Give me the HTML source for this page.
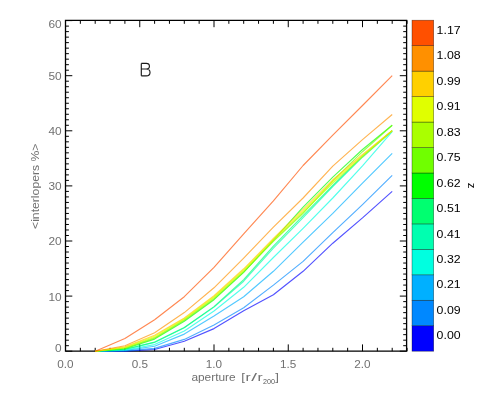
<!DOCTYPE html><html><head><meta charset="utf-8"><style>html,body{margin:0;padding:0;background:#fff;overflow:hidden}svg{display:block;will-change:transform}text{font-family:"Liberation Sans",sans-serif}</style></head><body>
<svg width="491" height="393" viewBox="0 0 491 393">
<rect width="491" height="393" fill="#fff"/>
<g stroke="#000" stroke-width="1.3" fill="none">
<path d="M65.5,19.75V351.84999999999997 M406.6,19.75V351.84999999999997 M65.5,20.4H406.6 M65.5,351.2H406.6"/>
</g>
<path d="M80.35,351.2v-3.4 M80.35,20.4v3.4 M95.20,351.2v-3.4 M95.20,20.4v3.4 M110.05,351.2v-3.4 M110.05,20.4v3.4 M124.90,351.2v-3.4 M124.90,20.4v3.4 M139.75,351.2v-6.8 M139.75,20.4v6.8 M154.60,351.2v-3.4 M154.60,20.4v3.4 M169.45,351.2v-3.4 M169.45,20.4v3.4 M184.30,351.2v-3.4 M184.30,20.4v3.4 M199.15,351.2v-3.4 M199.15,20.4v3.4 M214.00,351.2v-6.8 M214.00,20.4v6.8 M228.85,351.2v-3.4 M228.85,20.4v3.4 M243.70,351.2v-3.4 M243.70,20.4v3.4 M258.55,351.2v-3.4 M258.55,20.4v3.4 M273.40,351.2v-3.4 M273.40,20.4v3.4 M288.25,351.2v-6.8 M288.25,20.4v6.8 M303.10,351.2v-3.4 M303.10,20.4v3.4 M317.95,351.2v-3.4 M317.95,20.4v3.4 M332.80,351.2v-3.4 M332.80,20.4v3.4 M347.65,351.2v-3.4 M347.65,20.4v3.4 M362.50,351.2v-6.8 M362.50,20.4v6.8 M377.35,351.2v-3.4 M377.35,20.4v3.4 M392.20,351.2v-3.4 M392.20,20.4v3.4 M407.05,351.2v-3.4 M407.05,20.4v3.4 M65.5,351.20h6.8 M406.6,351.20h-6.8 M65.5,345.69h3.4 M406.6,345.69h-3.4 M65.5,340.18h3.4 M406.6,340.18h-3.4 M65.5,334.67h3.4 M406.6,334.67h-3.4 M65.5,329.16h3.4 M406.6,329.16h-3.4 M65.5,323.65h3.4 M406.6,323.65h-3.4 M65.5,318.14h3.4 M406.6,318.14h-3.4 M65.5,312.63h3.4 M406.6,312.63h-3.4 M65.5,307.12h3.4 M406.6,307.12h-3.4 M65.5,301.61h3.4 M406.6,301.61h-3.4 M65.5,296.10h6.8 M406.6,296.10h-6.8 M65.5,290.59h3.4 M406.6,290.59h-3.4 M65.5,285.08h3.4 M406.6,285.08h-3.4 M65.5,279.57h3.4 M406.6,279.57h-3.4 M65.5,274.06h3.4 M406.6,274.06h-3.4 M65.5,268.55h3.4 M406.6,268.55h-3.4 M65.5,263.04h3.4 M406.6,263.04h-3.4 M65.5,257.53h3.4 M406.6,257.53h-3.4 M65.5,252.02h3.4 M406.6,252.02h-3.4 M65.5,246.51h3.4 M406.6,246.51h-3.4 M65.5,241.00h6.8 M406.6,241.00h-6.8 M65.5,235.49h3.4 M406.6,235.49h-3.4 M65.5,229.98h3.4 M406.6,229.98h-3.4 M65.5,224.47h3.4 M406.6,224.47h-3.4 M65.5,218.96h3.4 M406.6,218.96h-3.4 M65.5,213.45h3.4 M406.6,213.45h-3.4 M65.5,207.94h3.4 M406.6,207.94h-3.4 M65.5,202.43h3.4 M406.6,202.43h-3.4 M65.5,196.92h3.4 M406.6,196.92h-3.4 M65.5,191.41h3.4 M406.6,191.41h-3.4 M65.5,185.90h6.8 M406.6,185.90h-6.8 M65.5,180.39h3.4 M406.6,180.39h-3.4 M65.5,174.88h3.4 M406.6,174.88h-3.4 M65.5,169.37h3.4 M406.6,169.37h-3.4 M65.5,163.86h3.4 M406.6,163.86h-3.4 M65.5,158.35h3.4 M406.6,158.35h-3.4 M65.5,152.84h3.4 M406.6,152.84h-3.4 M65.5,147.33h3.4 M406.6,147.33h-3.4 M65.5,141.82h3.4 M406.6,141.82h-3.4 M65.5,136.31h3.4 M406.6,136.31h-3.4 M65.5,130.80h6.8 M406.6,130.80h-6.8 M65.5,125.29h3.4 M406.6,125.29h-3.4 M65.5,119.78h3.4 M406.6,119.78h-3.4 M65.5,114.27h3.4 M406.6,114.27h-3.4 M65.5,108.76h3.4 M406.6,108.76h-3.4 M65.5,103.25h3.4 M406.6,103.25h-3.4 M65.5,97.74h3.4 M406.6,97.74h-3.4 M65.5,92.23h3.4 M406.6,92.23h-3.4 M65.5,86.72h3.4 M406.6,86.72h-3.4 M65.5,81.21h3.4 M406.6,81.21h-3.4 M65.5,75.70h6.8 M406.6,75.70h-6.8 M65.5,70.19h3.4 M406.6,70.19h-3.4 M65.5,64.68h3.4 M406.6,64.68h-3.4 M65.5,59.17h3.4 M406.6,59.17h-3.4 M65.5,53.66h3.4 M406.6,53.66h-3.4 M65.5,48.15h3.4 M406.6,48.15h-3.4 M65.5,42.64h3.4 M406.6,42.64h-3.4 M65.5,37.13h3.4 M406.6,37.13h-3.4 M65.5,31.62h3.4 M406.6,31.62h-3.4 M65.5,26.11h3.4 M406.6,26.11h-3.4 M65.5,20.60h6.8 M406.6,20.60h-6.8" stroke="#000" stroke-width="1.0" fill="none"/>
<g fill="none" stroke-width="1.15" stroke-opacity="0.68" stroke-linejoin="round">
<polyline stroke="#0000ff" points="95.2,351.2 124.9,351.2 154.6,349.5 184.3,341.3 214.0,328.6 243.7,310.7 273.4,294.7 303.1,271.3 332.8,243.2 362.5,217.9 392.2,191.4"/>
<polyline stroke="#0088ff" points="95.2,351.2 124.9,350.9 154.6,348.4 184.3,339.4 214.0,324.9 243.7,307.7 273.4,285.1 303.1,261.4 332.8,232.7 362.5,204.6 392.2,175.4"/>
<polyline stroke="#00b0ff" points="95.2,351.2 124.9,350.5 154.6,346.2 184.3,334.1 214.0,315.9 243.7,296.7 273.4,271.3 303.1,242.1 332.8,213.4 362.5,183.1 392.2,153.4"/>
<polyline stroke="#00ffe0" points="95.2,351.2 124.9,350.1 154.6,344.6 184.3,330.9 214.0,311.0 243.7,287.3 273.4,257.5 303.1,228.3 332.8,198.0 362.5,165.8 392.2,131.6"/>
<polyline stroke="#00ffb0" points="95.2,351.2 124.9,349.5 154.6,342.4 184.3,327.8 214.0,307.1 243.7,281.2 273.4,248.2 303.1,217.6 332.8,186.5 362.5,157.2 392.2,130.8"/>
<polyline stroke="#00ff70" points="95.2,351.2 124.9,349.3 154.6,342.1 184.3,327.5 214.0,306.6 243.7,279.6 273.4,246.2 303.1,215.7 332.8,185.3 362.5,156.1 392.2,130.8"/>
<polyline stroke="#00ff00" points="95.2,351.2 124.9,348.7 154.6,339.1 184.3,321.2 214.0,299.7 243.7,272.4 273.4,240.2 303.1,207.1 332.8,177.1 362.5,149.5 392.2,125.3"/>
<polyline stroke="#70ff00" points="95.2,351.2 124.9,348.3 154.6,338.3 184.3,320.3 214.0,298.9 243.7,271.9 273.4,241.3 303.1,213.4 332.8,180.9 362.5,151.7 392.2,125.3"/>
<polyline stroke="#aaff00" points="95.2,351.2 124.9,347.9 154.6,337.4 184.3,319.5 214.0,297.8 243.7,271.0 273.4,240.7 303.1,212.3 332.8,183.1 362.5,156.7 392.2,130.8"/>
<polyline stroke="#e0ff00" points="95.2,351.2 124.9,347.3 154.6,336.3 184.3,318.7 214.0,296.7 243.7,269.9 273.4,239.6 303.1,211.2 332.8,181.5 362.5,155.6 392.2,130.8"/>
<polyline stroke="#ffd000" points="95.2,351.2 124.9,346.8 154.6,335.2 184.3,317.9 214.0,295.8 243.7,268.8 273.4,238.5 303.1,209.3 332.8,179.8 362.5,154.5 392.2,130.5"/>
<polyline stroke="#ff9000" points="95.2,351.2 124.9,345.7 154.6,332.7 184.3,312.6 214.0,287.8 243.7,258.1 273.4,227.2 303.1,198.0 332.8,166.1 362.5,139.6 392.2,114.5"/>
<polyline stroke="#ff5000" points="95.2,351.2 124.9,338.5 154.6,319.8 184.3,296.7 214.0,267.4 243.7,233.8 273.4,200.8 303.1,165.5 332.8,135.2 362.5,105.5 392.2,75.7"/>
</g>
<g fill="#707070" font-size="10.5">
<text x="65.5" y="367.6" font-size="11" text-anchor="middle" textLength="16.3" lengthAdjust="spacingAndGlyphs">0.0</text>
<text x="139.8" y="367.6" font-size="11" text-anchor="middle" textLength="16.3" lengthAdjust="spacingAndGlyphs">0.5</text>
<text x="214.0" y="367.6" font-size="11" text-anchor="middle" textLength="16.3" lengthAdjust="spacingAndGlyphs">1.0</text>
<text x="288.2" y="367.6" font-size="11" text-anchor="middle" textLength="16.3" lengthAdjust="spacingAndGlyphs">1.5</text>
<text x="362.5" y="367.6" font-size="11" text-anchor="middle" textLength="16.3" lengthAdjust="spacingAndGlyphs">2.0</text>
<text x="61.7" y="300.5" text-anchor="end" textLength="13.2" lengthAdjust="spacingAndGlyphs">10</text>
<text x="61.7" y="245.4" text-anchor="end" textLength="13.2" lengthAdjust="spacingAndGlyphs">20</text>
<text x="61.7" y="190.3" text-anchor="end" textLength="13.2" lengthAdjust="spacingAndGlyphs">30</text>
<text x="61.7" y="135.2" text-anchor="end" textLength="13.2" lengthAdjust="spacingAndGlyphs">40</text>
<text x="61.7" y="80.1" text-anchor="end" textLength="13.2" lengthAdjust="spacingAndGlyphs">50</text>
<text x="61.7" y="28.2" text-anchor="end" textLength="13.2" lengthAdjust="spacingAndGlyphs">60</text>
<text x="61.6" y="351.8" text-anchor="end" textLength="6.6" lengthAdjust="spacingAndGlyphs">0</text>
</g>
<g fill="#707070">
<text x="191.4" y="381.4" font-size="11" textLength="44.3" lengthAdjust="spacingAndGlyphs">aperture</text>
<text transform="translate(241.3,381.4) scale(1.15,1)" font-size="11.5">[</text>
<text transform="translate(245.6,381.4) scale(1.35,1)" font-size="11.5">r</text>
<text transform="translate(251.2,381.4) scale(1.8,1)" font-size="11.5">/</text>
<text transform="translate(257.4,381.4) scale(1.35,1)" font-size="11.5">r</text>
<text transform="translate(275.3,381.4) scale(1.15,1)" font-size="11.5">]</text>
<text x="262.9" y="383.9" font-size="7.2" fill="#5a5a5a" textLength="12" lengthAdjust="spacingAndGlyphs">200</text>
<text transform="translate(38.7,229) rotate(-90)" font-size="11" textLength="85.5" lengthAdjust="spacingAndGlyphs">&lt;interlopers %&gt;</text>
</g>
<path d="M141.3,63.4V75.8 M141.3,63.4h4.9c4.3,0 4.3,5.6 0,5.6h-4.9 M146.2,69c5.1,0 5.1,6.8 0,6.8h-4.9" stroke="#1a1a1a" stroke-width="1.15" fill="none" stroke-linejoin="round"/>
<rect x="412.0" y="325.74" width="21.69999999999999" height="25.46" fill="#0000ff" stroke="#000" stroke-opacity="0.55" stroke-width="0.6"/>
<rect x="412.0" y="300.28" width="21.69999999999999" height="25.46" fill="#0088ff" stroke="#000" stroke-opacity="0.55" stroke-width="0.6"/>
<rect x="412.0" y="274.82" width="21.69999999999999" height="25.46" fill="#00b0ff" stroke="#000" stroke-opacity="0.55" stroke-width="0.6"/>
<rect x="412.0" y="249.35" width="21.69999999999999" height="25.46" fill="#00ffe0" stroke="#000" stroke-opacity="0.55" stroke-width="0.6"/>
<rect x="412.0" y="223.89" width="21.69999999999999" height="25.46" fill="#00ffb0" stroke="#000" stroke-opacity="0.55" stroke-width="0.6"/>
<rect x="412.0" y="198.43" width="21.69999999999999" height="25.46" fill="#00ff70" stroke="#000" stroke-opacity="0.55" stroke-width="0.6"/>
<rect x="412.0" y="172.97" width="21.69999999999999" height="25.46" fill="#00ff00" stroke="#000" stroke-opacity="0.55" stroke-width="0.6"/>
<rect x="412.0" y="147.51" width="21.69999999999999" height="25.46" fill="#70ff00" stroke="#000" stroke-opacity="0.55" stroke-width="0.6"/>
<rect x="412.0" y="122.05" width="21.69999999999999" height="25.46" fill="#aaff00" stroke="#000" stroke-opacity="0.55" stroke-width="0.6"/>
<rect x="412.0" y="96.58" width="21.69999999999999" height="25.46" fill="#e0ff00" stroke="#000" stroke-opacity="0.55" stroke-width="0.6"/>
<rect x="412.0" y="71.12" width="21.69999999999999" height="25.46" fill="#ffd000" stroke="#000" stroke-opacity="0.55" stroke-width="0.6"/>
<rect x="412.0" y="45.66" width="21.69999999999999" height="25.46" fill="#ff9000" stroke="#000" stroke-opacity="0.55" stroke-width="0.6"/>
<rect x="412.0" y="20.20" width="21.69999999999999" height="25.46" fill="#ff5000" stroke="#000" stroke-opacity="0.55" stroke-width="0.6"/>
<g fill="#000" font-size="10.5">
<text x="436.6" y="339.4" textLength="24.0" lengthAdjust="spacingAndGlyphs">0.00</text>
<text x="436.6" y="313.9" textLength="24.0" lengthAdjust="spacingAndGlyphs">0.09</text>
<text x="436.6" y="288.4" textLength="24.0" lengthAdjust="spacingAndGlyphs">0.21</text>
<text x="436.6" y="263.0" textLength="24.0" lengthAdjust="spacingAndGlyphs">0.32</text>
<text x="436.6" y="237.5" textLength="24.0" lengthAdjust="spacingAndGlyphs">0.41</text>
<text x="436.6" y="212.1" textLength="24.0" lengthAdjust="spacingAndGlyphs">0.51</text>
<text x="436.6" y="186.6" textLength="24.0" lengthAdjust="spacingAndGlyphs">0.62</text>
<text x="436.6" y="161.1" textLength="24.0" lengthAdjust="spacingAndGlyphs">0.75</text>
<text x="436.6" y="135.7" textLength="24.0" lengthAdjust="spacingAndGlyphs">0.83</text>
<text x="436.6" y="110.2" textLength="24.0" lengthAdjust="spacingAndGlyphs">0.91</text>
<text x="436.6" y="84.8" textLength="24.0" lengthAdjust="spacingAndGlyphs">0.99</text>
<text x="436.6" y="59.3" textLength="24.0" lengthAdjust="spacingAndGlyphs">1.08</text>
<text x="436.6" y="33.8" textLength="24.0" lengthAdjust="spacingAndGlyphs">1.17</text>
</g>
<text transform="translate(468.0,182.7) rotate(90)" font-size="11.5" fill="#000">z</text>
</svg></body></html>
